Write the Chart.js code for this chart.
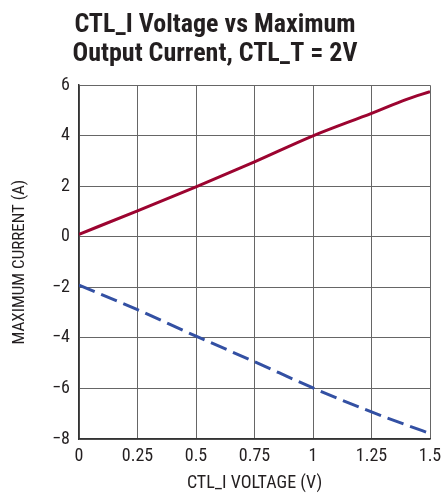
<!DOCTYPE html>
<html>
<head>
<meta charset="utf-8">
<script src="https://cdn.jsdelivr.net/npm/chart.js@4.4.1/dist/chart.umd.min.js"></script>
<style>
  html, body { margin: 0; padding: 0; background: #fff; }
  #wrap { width: 442px; height: 494px; }
</style>
</head>
<body>
<div id="wrap"><canvas id="c" width="442" height="494"></canvas></div>
<script>
const FONT = "'Liberation Sans Narrow', 'Arial Narrow', 'Roboto Condensed', 'Liberation Sans', sans-serif";

const titleLines = ["CTL_I Voltage vs Maximum", "Output Current, CTL_T = 2V"];
const xAxisTitle = "CTL_I VOLTAGE (V)";
const yAxisTitle = "MAXIMUM CURRENT (A)";

const xTickLabels = ["0", "0.25", "0.5", "0.75", "1", "1.25", "1.5"];
const yTickLabels = ["−8", "−6", "−4", "−2", "0", "2", "4", "6"];

const ctlVoltage = [0, 0.25, 0.5, 0.75, 1.0, 1.25, 1.4, 1.5];
const positiveCurrent = [0.1, 1.03, 1.98, 2.97, 4.0, 4.89, 5.44, 5.75];
const negativeCurrent = [-1.91, -2.88, -3.93, -4.94, -5.98, -6.93, -7.45, -7.78];

const toPoints = (xs, ys) => xs.map((x, i) => ({ x, y: ys[i] }));

new Chart(document.getElementById('c'), {
  type: 'line',
  data: {
    datasets: [
      {
        label: 'Positive',
        data: toPoints(ctlVoltage, positiveCurrent),
        borderColor: '#9c0430',
        borderWidth: 3,
        pointRadius: 0,
        cubicInterpolationMode: 'monotone',
        fill: false
      },
      {
        label: 'Negative',
        data: toPoints(ctlVoltage, negativeCurrent),
        borderColor: '#3350a3',
        borderWidth: 3,
        borderDash: [17, 7],
        pointRadius: 0,
        cubicInterpolationMode: 'monotone',
        fill: false
      }
    ]
  },
  options: {
    responsive: false,
    animation: false,
    layout: { padding: { left: 0, right: 12, top: 0, bottom: 0 } },
    plugins: {
      legend: { display: false },
      tooltip: { enabled: false },
      title: {
        display: true,
        text: titleLines,
        align: 'center',
        color: '#231f20',
        font: { family: FONT, size: 26, weight: 'bold', lineHeight: 1.12 },
        padding: { top: 11, bottom: 16 }
      }
    },
    scales: {
      x: {
        type: 'linear',
        min: 0,
        max: 1.5,
        ticks: {
          stepSize: 0.25,
          color: '#231f20',
          font: { family: FONT, size: 18 },
          padding: 7,
          maxRotation: 0,
          callback: (v, i) => xTickLabels[i]
        },
        grid: { color: '#666', lineWidth: 1, drawTicks: false },
        border: { color: '#333', width: 1.5 },
        title: {
          display: true,
          text: xAxisTitle,
          color: '#231f20',
          font: { family: FONT, size: 18 },
          padding: { top: 5, bottom: 0 }
        },
        afterFit: (s) => { s.height = 55; s.paddingLeft = 0; s.paddingRight = 0; }
      },
      y: {
        type: 'linear',
        min: -8,
        max: 6,
        ticks: {
          stepSize: 2,
          color: '#231f20',
          font: { family: FONT, size: 18 },
          padding: 9,
          callback: (v, i) => yTickLabels[i]
        },
        grid: { color: '#666', lineWidth: 1, drawTicks: false },
        border: { color: '#333', width: 1.5 },
        title: {
          display: true,
          text: yAxisTitle,
          color: '#231f20',
          font: { family: FONT, size: 17 },
          padding: { top: 10, bottom: 6 }
        },
        afterFit: (s) => { s.width = 79; }
      }
    }
  }
});
</script>
</body>
</html>
